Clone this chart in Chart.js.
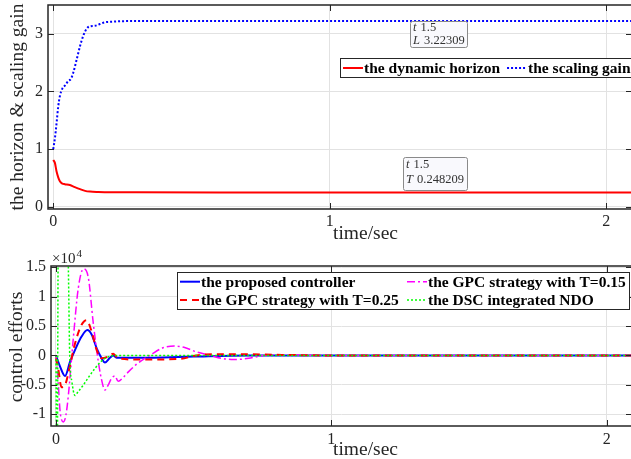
<!DOCTYPE html>
<html>
<head>
<meta charset="utf-8">
<script src="https://cdn.jsdelivr.net/npm/chart.js@4.4.0/dist/chart.umd.min.js"></script>
<style>
html, body { margin: 0; padding: 0; overflow: hidden; background: #fff; width: 631px; height: 459px; }
canvas { position: absolute; left: 0; }
#topChart { top: 0; }
#botChart { top: 245px; }
</style>
</head>
<body>
<canvas id="topChart" width="640" height="245"></canvas>
<canvas id="botChart" width="640" height="214"></canvas>
<script>
// --- data ---
const xTicks = [0, 1, 2];
const yTicksTop = [0, 1, 2, 3];
const yTicksBot = [-1, -0.5, 0, 0.5, 1, 1.5];
const yLabelsBot = ['-1', '-0.5', '0', '0.5', '1', '1.5'];
const tipTime = 1.5;

// top: dynamic horizon T and scaling gain L
const tHorizon = [0, 0.006, 0.012, 0.018, 0.024, 0.033, 0.042, 0.06, 0.078, 0.097, 0.115, 0.133, 0.163, 0.21, 0.3, 0.6, 1.0, 1.5, 2.1];
const horizon = [0.81, 0.76, 0.61, 0.51, 0.44, 0.4, 0.39, 0.375, 0.34, 0.305, 0.275, 0.262, 0.255, 0.25, 0.2485, 0.2483, 0.248209, 0.248209, 0.248209];
const tGain = [0, 0.006, 0.012, 0.018, 0.024, 0.033, 0.042, 0.054, 0.064, 0.072, 0.085, 0.097, 0.108, 0.121, 0.133, 0.151, 0.169, 0.187, 0.211, 0.259, 0.35, 0.6, 1.0, 1.5, 2.1];
const gain = [1.0, 1.19, 1.45, 1.74, 1.92, 2.05, 2.1, 2.18, 2.22, 2.32, 2.56, 2.79, 2.96, 3.09, 3.13, 3.14, 3.17, 3.2, 3.21, 3.22, 3.222, 3.2229, 3.2231, 3.22309, 3.22309];

// bottom: control efforts (x1e4)
const tProposed = [0, 0.015, 0.033, 0.051, 0.069, 0.093, 0.114, 0.13, 0.148, 0.166, 0.178, 0.196, 0.208, 0.22, 0.35, 0.5, 0.7, 2.1];
const proposed = [0, -0.19, -0.35, -0.11, 0.09, 0.32, 0.43, 0.35, 0.12, -0.05, -0.12, -0.04, 0, -0.04, -0.04, -0.02, 0, 0];
const tGpc15 = [0, 0.008, 0.015, 0.027, 0.036, 0.045, 0.063, 0.081, 0.1, 0.118, 0.135, 0.154, 0.17, 0.178, 0.19, 0.202, 0.214, 0.226, 0.245, 0.263, 0.29, 0.323, 0.341, 0.384, 0.43, 0.47, 0.51, 0.56, 0.6, 0.645, 0.7, 0.753, 0.8, 1.0, 2.1];
const gpc15 = [0, -0.45, -0.95, -1.13, -1.02, -0.68, 0.29, 1.14, 1.47, 1.31, 0.57, -0.11, -0.5, -0.59, -0.5, -0.39, -0.35, -0.44, -0.37, -0.28, -0.16, -0.05, 0, 0.12, 0.16, 0.13, 0.06, 0, -0.05, -0.07, -0.05, 0, 0.01, 0, 0];
const tGpc25 = [0, 0.008, 0.02, 0.035, 0.051, 0.069, 0.093, 0.111, 0.13, 0.148, 0.166, 0.19, 0.208, 0.226, 0.3, 0.45, 0.51, 0.6, 0.7, 0.8, 1.0, 2.1];
const gpc25 = [-0.05, -0.22, -0.54, -0.48, -0.17, 0.2, 0.52, 0.6, 0.4, 0.09, -0.05, -0.02, 0.03, -0.05, -0.07, -0.06, 0, 0.02, 0.02, 0.01, 0, 0];
const tDsc = [0, 0.004, 0.009, 0.04, 0.045, 0.05, 0.058, 0.069, 0.08, 0.1, 0.12, 0.142, 0.16, 0.178, 0.2, 0.22, 2.1];
const dsc = [0, -2.5, 2.5, 2.5, 1.5, 0, -0.45, -0.68, -0.62, -0.5, -0.36, -0.22, -0.12, -0.05, -0.01, 0, 0];

const pts = (ts, vs) => ts.map((t, i) => ({ x: t, y: vs[i] }));
const serif = (size, bold) => (bold ? 'bold ' : '') + size + 'px "Liberation Serif", "Times New Roman", serif';
const INK = '#262626';

function sample(ctx, ds, x1, x2, y) {
    ctx.save();
    ctx.strokeStyle = ds.borderColor;
    ctx.lineWidth = ds.borderWidth;
    ctx.setLineDash(ds.borderDash || []);
    ctx.beginPath(); ctx.moveTo(x1, y); ctx.lineTo(x2, y); ctx.stroke();
    ctx.restore();
}

// axes box, inward ticks, labels, legend and data tips (MATLAB look)
const frame = {
    id: 'frame',
    afterDatasetsDraw(chart, args, o) {
        const ctx = chart.ctx, a = chart.chartArea, xs = chart.scales.x, ys = chart.scales.y;
        ctx.save();

        // data tips
        (o.tips || []).forEach(tip => {
            const ds = chart.data.datasets[tip.ds];
            const p = ds.data.find(d => d.x === tipTime);
            const px = xs.getPixelForValue(p.x), py = ys.getPixelForValue(p.y);
            const bx = Math.round(px + tip.dx), by = Math.round(py + tip.dy);
            ctx.fillStyle = '#f9f9fd';
            ctx.strokeStyle = '#8a8a8a';
            ctx.lineWidth = 1;
            ctx.beginPath();
            ctx.roundRect(bx + 0.5, by + 0.5, tip.w, tip.h, 2);
            ctx.fill(); ctx.stroke();
            ctx.fillStyle = '#333';
            ctx.textBaseline = 'middle';
            ctx.textAlign = 'left';
            [['t', String(p.x)], [tip.sym, p.y.toPrecision(6)]].forEach((row, i) => {
                const ty = by + tip.line1 + i * tip.gap;
                ctx.font = 'italic ' + serif(12.5);
                ctx.fillText(row[0], bx + 3, ty);
                const w = ctx.measureText(row[0] + ' ').width;
                ctx.font = serif(12.5);
                ctx.fillText(row[1], bx + 3 + w + 1, ty);
            });
        });

        // box
        ctx.strokeStyle = INK;
        ctx.lineWidth = 1.5;
        ctx.strokeRect(a.left, a.top, a.right - a.left, a.bottom - a.top);
        ctx.lineWidth = 1;
        ctx.beginPath();
        xTicks.forEach(v => {
            const x = Math.round(xs.getPixelForValue(v)) + 0.5;
            ctx.moveTo(x, a.bottom); ctx.lineTo(x, a.bottom - 6);
            ctx.moveTo(x, a.top); ctx.lineTo(x, a.top + 6);
        });
        o.yTicks.forEach(v => {
            const y = Math.round(ys.getPixelForValue(v)) + 0.5;
            ctx.moveTo(a.left, y); ctx.lineTo(a.left + 6, y);
            ctx.moveTo(a.right, y); ctx.lineTo(a.right - 6, y);
        });
        ctx.stroke();

        // axis titles
        ctx.fillStyle = INK;
        ctx.font = serif(19.5);
        ctx.textAlign = 'center';
        ctx.textBaseline = 'alphabetic';
        ctx.fillText('time/sec', o.xTitle[0], o.xTitle[1]);
        ctx.save();
        ctx.translate(o.yTitle[0], o.yTitle[1]);
        ctx.rotate(-Math.PI / 2);
        ctx.textBaseline = 'middle';
        ctx.fillText(o.yText, 0, 0);
        ctx.restore();

        if (o.exponent) {
            ctx.textAlign = 'left';
            ctx.font = serif(15);
            ctx.fillText('\u00d710', a.left + 1, a.top - 3);
            const w = ctx.measureText('\u00d710').width;
            ctx.font = serif(11);
            ctx.fillText('4', a.left + 2 + w, a.top - 9);
        }

        // legend
        const L = o.legend;
        ctx.fillStyle = '#fff';
        ctx.fillRect(L.left, L.top, L.width, L.height);
        ctx.strokeStyle = INK;
        ctx.lineWidth = 1;
        ctx.strokeRect(L.left + 0.5, L.top + 0.5, L.width, L.height);
        ctx.font = serif(15.5, true);
        ctx.fillStyle = '#000';
        ctx.textAlign = 'left';
        ctx.textBaseline = 'middle';
        L.rows.forEach((row, r) => {
            let x = L.left;
            row.forEach((idx, c) => {
                if (L.colX) x = L.left + L.colX[c];
                const ds = chart.data.datasets[idx];
                const y = L.top + L.rowY[r];
                sample(ctx, ds, x + 3, x + 23, y);
                ctx.fillText(ds.label, x + 24, y + 1);
                x += 24 + ctx.measureText(ds.label).width + 4;
            });
        });
        ctx.restore();
    }
};

function makeChart(id, cfg) {
    const cv = document.getElementById(id);
    const tickFont = { family: '"Liberation Serif", "Times New Roman", serif', size: 16 };
    return new Chart(cv, {
        type: 'line',
        data: { datasets: cfg.datasets },
        options: {
            responsive: false,
            animation: false,
            devicePixelRatio: 1,
            layout: { padding: { left: 0, top: cfg.area.top, right: cv.width - cfg.area.right, bottom: 0 } },
            elements: { point: { radius: 0 }, line: { cubicInterpolationMode: 'monotone', fill: false } },
            plugins: { legend: { display: false }, tooltip: { enabled: false }, frame: cfg },
            scales: {
                x: {
                    type: 'linear', min: cfg.xmin, max: cfg.xmax,
                    afterBuildTicks: s => { s.ticks = xTicks.map(v => ({ value: v })); },
                    afterFit: s => { s.height = cv.height - cfg.area.bottom; s.paddingLeft = 0; s.paddingRight = 0; s.paddingTop = 0; s.paddingBottom = 0; },
                    grid: { color: '#e2e2e2', drawTicks: false },
                    border: { display: false },
                    ticks: { font: tickFont, color: INK, padding: cfg.xPad, maxRotation: 0, autoSkip: false, callback: v => String(v) }
                },
                y: {
                    type: 'linear', min: cfg.ymin, max: cfg.ymax,
                    afterBuildTicks: s => { s.ticks = cfg.yTicks.map(v => ({ value: v })); },
                    afterFit: s => { s.width = cfg.area.left; s.paddingTop = 0; s.paddingBottom = 0; s.paddingLeft = 0; s.paddingRight = 0; },
                    grid: { color: '#e2e2e2', drawTicks: false },
                    border: { display: false },
                    ticks: { font: tickFont, color: INK, padding: 5, autoSkip: false, callback: (v, i) => cfg.yLabels ? cfg.yLabels[i] : String(v) }
                }
            }
        },
        plugins: [frame]
    });
}

makeChart('topChart', {
    area: { left: 48, top: 5, right: 632, bottom: 209 },
    xmin: -0.019, xmax: 2.093, ymin: -0.04, ymax: 3.5, xPad: 3.5,
    yTicks: yTicksTop,
    yText: 'the horizon & scaling gain', yTitle: [18, 107], xTitle: [365.5, 238.5],
    datasets: [
        { label: 'the dynamic horizon', data: pts(tHorizon, horizon), borderColor: '#ff0000', borderWidth: 2 },
        { label: 'the scaling gain', data: pts(tGain, gain), borderColor: '#0000ff', borderWidth: 2, borderDash: [2, 2] }
    ],
    legend: { left: 340, top: 58, width: 360, height: 19, rows: [[0, 1]], rowY: [10] },
    tips: [
        { ds: 1, sym: 'L', dx: -58, dy: 0, w: 57, h: 26, line1: 6.5, gap: 13.5 },
        { ds: 0, sym: 'T', dx: -65, dy: -35.5, w: 64, h: 33, line1: 8, gap: 15 }
    ]
});

makeChart('botChart', {
    area: { left: 51, top: 21, right: 632, bottom: 181 },
    xmin: -0.018, xmax: 2.092, ymin: -1.2, ymax: 1.52, xPad: 4.5,
    yTicks: yTicksBot, yLabels: yLabelsBot, exponent: true,
    yText: 'control efforts', yTitle: [17, 102], xTitle: [365.5, 210],
    datasets: [
        { label: 'the proposed controller', data: pts(tProposed, proposed), borderColor: '#0000ff', borderWidth: 2, order: 4 },
        { label: 'the GPC strategy with T=0.15', data: pts(tGpc15, gpc15), borderColor: '#ff00ff', borderWidth: 1.5, borderDash: [8, 3, 2, 3], order: 3 },
        { label: 'the GPC strategy with T=0.25', data: pts(tGpc25, gpc25), borderColor: '#ff0000', borderWidth: 2, borderDash: [7, 5], order: 2 },
        { label: 'the DSC integrated NDO', data: pts(tDsc, dsc), borderColor: '#00ff00', borderWidth: 1.5, borderDash: [2, 2], order: 1 }
    ],
    legend: { left: 177, top: 27, width: 452, height: 37, rows: [[0, 1], [2, 3]], colX: [0, 227], rowY: [9.7, 28] }
});
</script>
</body>
</html>
